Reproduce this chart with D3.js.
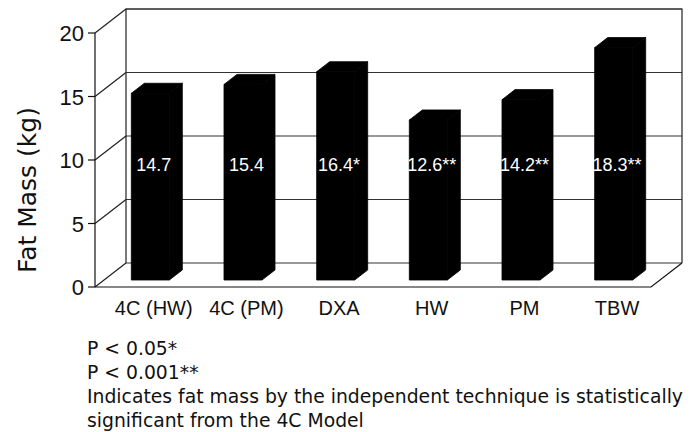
<!DOCTYPE html>
<html>
<head>
<meta charset="utf-8">
<script src="https://cdn.jsdelivr.net/npm/d3@7/dist/d3.min.js"></script>
<style>
  html, body { margin: 0; padding: 0; background: #fff; }
  svg { display: block; }
</style>
</head>
<body>
<svg id="chart" width="697" height="432"></svg>
<script>
// Fat mass by measurement technique
const categories = ["4C (HW)", "4C (PM)", "DXA", "HW", "PM", "TBW"];
const fatMass = [14.7, 15.4, 16.4, 12.6, 14.2, 18.3];
const significance = ["", "", "*", "**", "**", "**"];
const yTicks = [0, 5, 10, 15, 20];
const footnotes = [
  "P < 0.05*",
  "P < 0.001**",
  "Indicates fat mass by the independent technique is statistically",
  "significant from the 4C Model"
];

const svg = d3.select("#chart");

// Oblique 3D projection: the back wall is the front plane shifted by (DX, -DY)
const DX = 31, DY = 24;
const depthFront = 0.29, depthBack = 0.71;   // bar depth within the floor

const x = d3.scaleBand()
  .domain(categories)
  .range([95, 651])
  .paddingInner(0.59)
  .paddingOuter(0.295);

const y = d3.scaleLinear().domain([0, 20]).range([287, 33]);

const gridColor = "#333";
const frame = svg.append("g").attr("fill", "none").attr("stroke-width", 1.2);

// back wall gridlines
frame.selectAll("line.grid")
  .data(yTicks)
  .join("line")
  .attr("x1", 95 + DX).attr("x2", 651 + DX)
  .attr("y1", d => y(d) - DY).attr("y2", d => y(d) - DY)
  .attr("stroke", gridColor);

// back wall edges
frame.append("path")
  .attr("d", `M${95 + DX},${y(0) - DY}V${y(20) - DY}H${651 + DX}V${y(0) - DY}`)
  .attr("stroke", "#222");

// side wall diagonals at each tick
frame.selectAll("line.diag")
  .data(yTicks)
  .join("line")
  .attr("x1", 95).attr("x2", 95 + DX)
  .attr("y1", d => y(d)).attr("y2", d => y(d) - DY)
  .attr("stroke", "#222");

// floor front edge and right diagonal
frame.append("path")
  .attr("d", `M95,${y(0)}H651L${651 + DX},${y(0) - DY}`)
  .attr("stroke", "#111");

// front value axis with ticks
frame.append("line")
  .attr("x1", 95).attr("x2", 95)
  .attr("y1", y(0)).attr("y2", y(20))
  .attr("stroke", "#111");
frame.selectAll("line.tick")
  .data(yTicks)
  .join("line")
  .attr("x1", 88).attr("x2", 95)
  .attr("y1", d => y(d)).attr("y2", d => y(d))
  .attr("stroke", "#111");

svg.append("g")
  .selectAll("text")
  .data(yTicks)
  .join("text")
  .attr("x", 84)
  .attr("y", d => y(d) + 8)
  .attr("text-anchor", "end")
  .attr("font-family", "Liberation Sans, Arial, sans-serif")
  .attr("font-size", 22)
  .attr("fill", "#111")
  .text(d => d);

// 3D bars
const bars = svg.append("g");
const data = categories.map((c, i) => ({ c, v: fatMass[i], s: significance[i] }));

data.forEach(d => {
  const fx0 = x(d.c) + depthFront * DX;
  const fx1 = fx0 + x.bandwidth();
  const base = y(0) - depthFront * DY;
  const top = y(d.v) - depthFront * DY;
  const bx = (depthBack - depthFront) * DX;
  const by = (depthBack - depthFront) * DY;
  const g = bars.append("g").attr("fill", "#000").attr("stroke", "#000").attr("stroke-width", 0.8).attr("stroke-linejoin", "round");
  // side face
  g.append("path").attr("d", `M${fx1},${base}V${top}L${fx1 + bx},${top - by}V${base - by}Z`);
  // top face
  g.append("path").attr("d", `M${fx0},${top}L${fx0 + bx},${top - by}H${fx1 + bx}L${fx1},${top}Z`);
  // front face
  g.append("path").attr("d", `M${fx0},${base}V${top}H${fx1}V${base}Z`);
});

// value labels inside the bars
svg.append("g")
  .selectAll("text")
  .data(data)
  .join("text")
  .attr("x", d => x(d.c) + x.bandwidth() / 2 + DX * 0.4)
  .attr("y", y(10) + 11)
  .attr("text-anchor", "middle")
  .attr("font-family", "Liberation Sans, Arial, sans-serif")
  .attr("font-size", 18)
  .attr("fill", "#fff")
  .text(d => d.v.toFixed(1) + d.s);

// category labels
svg.append("g")
  .selectAll("text")
  .data(categories)
  .join("text")
  .attr("x", c => x(c) + x.bandwidth() / 2 + DX * 0.4)
  .attr("y", 315)
  .attr("text-anchor", "middle")
  .attr("font-family", "Liberation Sans, Arial, sans-serif")
  .attr("font-size", 20)
  .attr("fill", "#111")
  .text(c => c);

// axis title
svg.append("text")
  .attr("transform", `translate(36,190) rotate(-90)`)
  .attr("text-anchor", "middle")
  .attr("font-family", "DejaVu Sans, sans-serif")
  .attr("font-size", 25)
  .attr("fill", "#111")
  .text("Fat Mass (kg)");

// footnotes
svg.append("g")
  .selectAll("text")
  .data(footnotes)
  .join("text")
  .attr("x", 87)
  .attr("y", (d, i) => 355 + i * 24)
  .attr("font-family", "DejaVu Sans, sans-serif")
  .attr("font-size", 18.8)
  .attr("fill", "#111")
  .text(d => d);
</script>
</body>
</html>
